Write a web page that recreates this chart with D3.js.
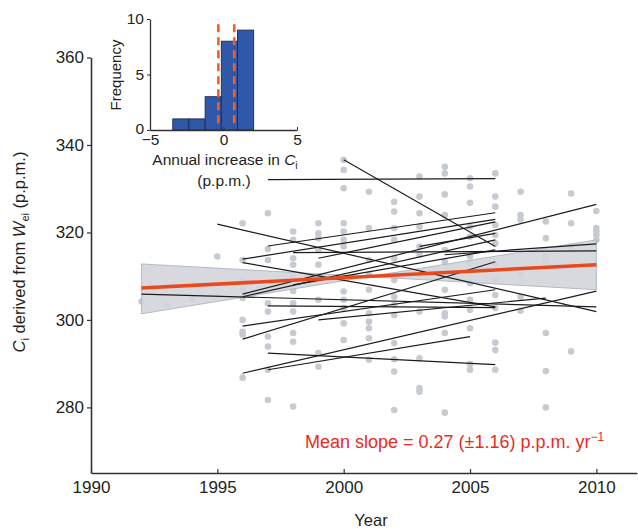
<!DOCTYPE html>
<html>
<head>
  <meta charset="utf-8">
  <script src="https://d3js.org/d3.v7.min.js"></script>
  <title>Ci derived from Wei</title>
  <style>
  body {
    margin: 0;
    background: white;
    font-family: Helvetica, Arial, "Liberation Sans", sans-serif;
  }
  svg text { fill: #231f20; }
  .axis path, .axis line { stroke: #333; }
  </style>
</head>
<body>
<svg id="chart" width="638" height="529"></svg>
<script>
// grey points, one column per year
var dotYears = [1992, 1993, 1994, 1995, 1996, 1997, 1998, 1999, 2000, 2001,
                2002, 2003, 2004, 2005, 2006, 2007, 2008, 2009, 2010];
var dotValues = [
  [304.2],
  [303.3],
  [304.7],
  [314.5, 305.5],
  [322.1, 313.7, 309.1, 306.9, 305.0, 300.0, 297.3, 296.6, 286.8],
  [324.4, 316.2, 313.7, 303.8, 301.9, 296.2, 293.9, 288.6, 281.7],
  [320.2, 318.3, 314.1, 312.6, 309.9, 306.6, 303.8, 301.9, 297.0, 295.0, 280.2],
  [322.1, 319.8, 318.7, 316.0, 312.6, 309.9, 304.6, 292.4, 289.3],
  [336.6, 334.3, 330.1, 322.1, 320.2, 318.3, 316.8, 306.5, 304.6, 302.7, 299.2, 295.4],
  [329.3, 321.0, 313.7, 310.3, 306.9, 301.5, 299.6, 298.1, 295.8, 290.9],
  [327.0, 324.8, 321.0, 318.3, 314.1, 309.1, 305.3, 303.4, 301.1, 294.7, 291.0, 288.2, 279.4],
  [332.8, 328.2, 324.4, 321.3, 316.8, 314.9, 310.3, 301.9, 291.2, 284.4, 283.6],
  [335.0, 333.5, 328.7, 324.0, 316.0, 313.3, 306.9, 301.5, 300.8, 297.0, 278.8],
  [332.4, 330.5, 326.8, 321.3, 319.0, 314.5, 313.0, 308.4, 304.6, 302.3, 298.1, 289.9, 288.6],
  [333.5, 328.2, 325.9, 321.7, 319.4, 317.5, 312.6, 309.1, 305.7, 302.7, 294.8, 293.1, 288.6],
  [329.3, 324.0, 322.9, 310.3, 305.3, 302.1],
  [322.5, 318.7, 314.5, 313.0, 297.0, 288.3, 280.0],
  [328.9, 322.1, 316.8, 312.6, 292.8],
  [324.9, 321.0, 320.2, 319.4, 318.3]
];

// one regression line per tree
var lineStartYear = [1992, 1995, 1996, 1996, 1996, 1996, 1996, 1996, 1996, 1997, 1997,
                     1997, 1997, 1998, 1998, 1999, 2000, 2003, 2004, 1997, 1999];
var lineStartVal  = [305.9, 321.9, 313.9, 313.1, 305.9, 305.3, 298.6, 295.6, 287.8, 303.2, 292.4,
                     288.6, 332.1, 315.4, 308.0, 314.1, 336.6, 316.8, 314.9, 316.9, 300.0];
var lineEndYear   = [2010, 2010, 2006, 2006, 2010, 2006, 2006, 2006, 2010, 2006, 2006,
                     2005, 2006, 2010, 2006, 2006, 2006, 2006, 2010, 2006, 2008];
var lineEndVal    = [303.0, 301.9, 323.0, 303.0, 326.4, 318.3, 306.9, 313.3, 306.6, 302.8, 289.8,
                     296.2, 332.3, 315.8, 316.0, 322.4, 316.8, 319.8, 317.4, 324.5, 305.0];

// mean slope and its confidence band
var meanYears = [1992, 2010];
var meanValues = [307.3, 312.6];
var bandYears = [1992, 2001, 2010];
var bandHigh = [312.8, 309.9, 318.3];
var bandLow = [301.4, 309.9, 306.9];

// inset histogram of annual increase
var binEdges = [-3.45, -2.35, -1.25, -0.15, 0.95, 2.05];
var binCounts = [1, 1, 3, 8, 9];
var ciLimits = [-0.35, 0.73];

var xTicks = [1990, 1995, 2000, 2005, 2010];
var yTicks = [280, 300, 320, 340, 360];
var histXTicks = [-5, 0, 5];
var histYTicks = [0, 5, 10];

var svg = d3.select("#chart");

var xs = d3.scaleLinear().domain([1990, 2011.6]).range([91, 636.8]);
var ys = d3.scaleLinear().domain([265, 360]).range([473, 57.5]);

// points
var pts = [];
dotYears.forEach(function(yr, i) {
  dotValues[i].forEach(function(v) { pts.push({year: yr, value: v}); });
});
svg.append("g")
  .selectAll("circle").data(pts).enter().append("circle")
  .attr("cx", function(d) { return xs(d.year); })
  .attr("cy", function(d) { return ys(d.value); })
  .attr("r", 3.3)
  .attr("fill", "#c6cbd3");

// confidence band
var band = bandYears.map(function(yr, i) { return {year: yr, hi: bandHigh[i], lo: bandLow[i]}; });
svg.append("path")
  .datum(band)
  .attr("fill", "#d3d5db")
  .attr("fill-opacity", 0.9)
  .attr("stroke", "#9fb0bd")
  .attr("stroke-width", 0.8)
  .attr("d", d3.area()
    .x(function(d) { return xs(d.year); })
    .y0(function(d) { return ys(d.lo); })
    .y1(function(d) { return ys(d.hi); }));

// tree lines
svg.append("g")
  .selectAll("line").data(lineStartYear).enter().append("line")
  .attr("x1", function(d) { return xs(d); })
  .attr("y1", function(d, i) { return ys(lineStartVal[i]); })
  .attr("x2", function(d, i) { return xs(lineEndYear[i]); })
  .attr("y2", function(d, i) { return ys(lineEndVal[i]); })
  .attr("stroke", "#1b1b1b")
  .attr("stroke-width", 1.2);

// mean line
svg.append("line")
  .attr("x1", xs(meanYears[0])).attr("y1", ys(meanValues[0]))
  .attr("x2", xs(meanYears[1])).attr("y2", ys(meanValues[1]))
  .attr("stroke", "#e9491d")
  .attr("stroke-width", 3.6);

// axes
svg.append("g")
  .attr("class", "axis main")
  .attr("transform", "translate(91,0)")
  .call(d3.axisLeft(ys).tickValues(yTicks).tickSize(4).tickSizeOuter(0).tickPadding(3));
svg.append("g")
  .attr("class", "axis main")
  .attr("transform", "translate(0,473)")
  .call(d3.axisBottom(xs).tickValues(xTicks).tickFormat(d3.format("d"))
        .tickSize(-4).tickSizeOuter(0).tickPadding(8));
svg.selectAll(".axis path").attr("stroke-width", 1.6);
svg.selectAll(".axis line").attr("stroke-width", 1.2);
svg.selectAll(".main text")
  .style("font-size", "17px")
  .style("font-family", "Helvetica, Arial, 'Liberation Sans', sans-serif")
  .attr("fill", "#231f20");

svg.append("text")
  .attr("x", 371).attr("y", 526)
  .attr("text-anchor", "middle")
  .style("font-size", "16.5px")
  .text("Year");

var ylab = svg.append("text")
  .attr("transform", "translate(25,252) rotate(-90)")
  .attr("text-anchor", "middle")
  .style("font-size", "16.5px");
ylab.append("tspan").attr("font-style", "italic").text("C");
ylab.append("tspan").attr("dy", 4).style("font-size", "11px").text("i");
ylab.append("tspan").attr("dy", -4).text(" derived from ");
ylab.append("tspan").attr("font-style", "italic").text("W");
ylab.append("tspan").attr("dy", 4).style("font-size", "11px").text("ei");
ylab.append("tspan").attr("dy", -4).text(" (p.p.m.)");

var slope = svg.append("text")
  .attr("x", 305).attr("y", 448)
  .style("font-size", "18px")
  .style("fill", "#ea2b24");
slope.append("tspan").style("fill", "#ea2b24").text("Mean slope = 0.27 (\u00b11.16) p.p.m. yr");
slope.append("tspan").style("fill", "#ea2b24").attr("dy", -7).style("font-size", "12px").text("\u22121");

// inset histogram
var hx = d3.scaleLinear().domain([-5, 5]).range([150, 297]);
var hy = d3.scaleLinear().domain([0, 10]).range([130, 19]);

svg.append("g")
  .selectAll("rect").data(binCounts).enter().append("rect")
  .attr("x", function(d, i) { return hx(binEdges[i]); })
  .attr("width", function(d, i) { return hx(binEdges[i + 1]) - hx(binEdges[i]); })
  .attr("y", function(d) { return hy(d); })
  .attr("height", function(d) { return hy(0) - hy(d); })
  .attr("fill", "#2f59a8")
  .attr("stroke", "#1c2a4d")
  .attr("stroke-width", 0.9);

svg.append("g")
  .selectAll("line").data(ciLimits).enter().append("line")
  .attr("x1", function(d) { return hx(d); })
  .attr("x2", function(d) { return hx(d); })
  .attr("y1", hy(0.6))
  .attr("y2", hy(10))
  .attr("stroke", "#f0602f")
  .attr("stroke-width", 2.6)
  .attr("stroke-dasharray", "8,5");

svg.append("g")
  .attr("class", "axis inset")
  .attr("transform", "translate(150,0)")
  .call(d3.axisLeft(hy).tickValues(histYTicks).tickSize(3).tickSizeOuter(0).tickPadding(3));
svg.append("g")
  .attr("class", "axis inset")
  .attr("transform", "translate(0,130)")
  .call(d3.axisBottom(hx).tickValues(histXTicks).tickFormat(function(d) { return d < 0 ? "\u2212" + (-d) : d; })
        .tickSize(-3).tickSizeOuter(0).tickPadding(4));
svg.selectAll(".inset path").attr("stroke-width", 1.3);
svg.selectAll(".inset text")
  .style("font-size", "15.5px")
  .style("font-family", "Helvetica, Arial, 'Liberation Sans', sans-serif");
// keep the "0" clear of the "-5" below it
svg.selectAll(".inset text").filter(function(d) { return d === 0 && this.parentNode.parentNode.getAttribute("transform") === "translate(150,0)"; })
  .attr("dy", "0.2em");

svg.append("text")
  .attr("transform", "translate(121,75) rotate(-90)")
  .attr("text-anchor", "middle")
  .style("font-size", "15px")
  .text("Frequency");

var hlab = svg.append("text")
  .attr("x", 225).attr("y", 165)
  .attr("text-anchor", "middle")
  .style("font-size", "15.5px");
hlab.append("tspan").text("Annual increase in ");
hlab.append("tspan").attr("font-style", "italic").text("C");
hlab.append("tspan").attr("dy", 4).style("font-size", "10.5px").text("i");

svg.append("text")
  .attr("x", 224).attr("y", 186)
  .attr("text-anchor", "middle")
  .style("font-size", "15.5px")
  .text("(p.p.m.)");
</script>
</body>
</html>
